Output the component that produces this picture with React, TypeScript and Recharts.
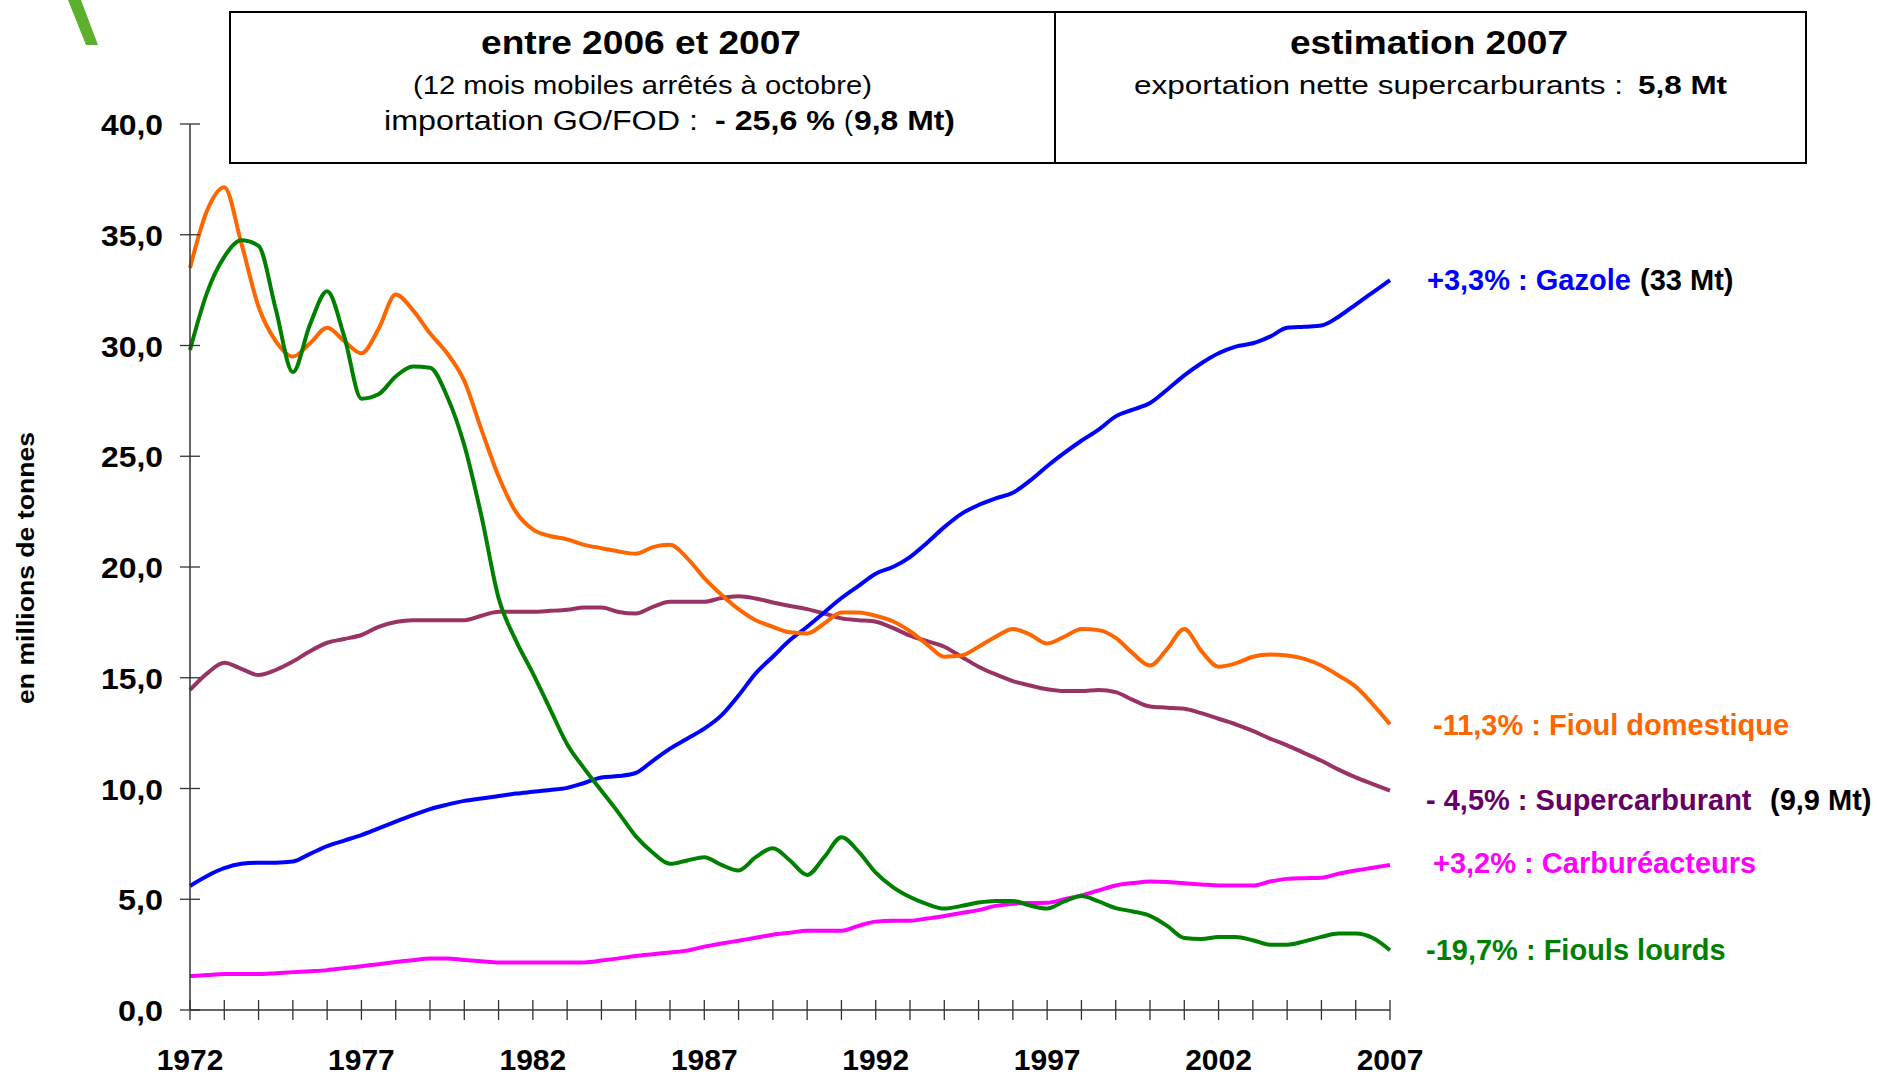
import { LineChart, Line, XAxis, YAxis } from 'recharts'

// half-year sampling, 1972 -> 2007 (Mt, 12-month rolling)
const periods = [
  1972, 1972.5, 1973, 1973.5, 1974, 1974.5, 1975, 1975.5, 1976, 1976.5,
  1977, 1977.5, 1978, 1978.5, 1979, 1979.5, 1980, 1980.5, 1981, 1981.5,
  1982, 1982.5, 1983, 1983.5, 1984, 1984.5, 1985, 1985.5, 1986, 1986.5,
  1987, 1987.5, 1988, 1988.5, 1989, 1989.5, 1990, 1990.5, 1991, 1991.5,
  1992, 1992.5, 1993, 1993.5, 1994, 1994.5, 1995, 1995.5, 1996, 1996.5,
  1997, 1997.5, 1998, 1998.5, 1999, 1999.5, 2000, 2000.5, 2001, 2001.5,
  2002, 2002.5, 2003, 2003.5, 2004, 2004.5, 2005, 2005.5, 2006, 2006.5,
  2007,
]

const gazole = [
  5.6, 6.05, 6.4, 6.6, 6.65, 6.65, 6.7, 7.05, 7.4, 7.65,
  7.9, 8.2, 8.5, 8.8, 9.07, 9.27, 9.44, 9.55, 9.66, 9.77,
  9.85, 9.93, 10.03, 10.25, 10.5, 10.56, 10.7, 11.25, 11.8, 12.25,
  12.7, 13.3, 14.2, 15.2, 15.95, 16.7, 17.3, 17.95, 18.6, 19.15,
  19.7, 20.0, 20.45, 21.1, 21.8, 22.4, 22.8, 23.1, 23.35, 23.9,
  24.55, 25.15, 25.7, 26.2, 26.8, 27.1, 27.4, 28.0, 28.65, 29.2,
  29.65, 29.95, 30.1, 30.4, 30.8, 30.85, 30.9, 31.3, 31.85, 32.4,
  32.95,
]

const fioulDomestique = [
  33.5, 36.1, 37.15, 34.6, 31.75, 30.2, 29.5, 30.1, 30.8, 30.2,
  29.65, 30.75, 32.3, 31.6, 30.55, 29.65, 28.4, 26.2, 24.1, 22.5,
  21.7, 21.4, 21.25, 21.0, 20.85, 20.7, 20.6, 20.9, 21.0, 20.4,
  19.5, 18.75, 18.1, 17.6, 17.3, 17.05, 17.0, 17.45, 17.95, 17.95,
  17.8, 17.55, 17.1, 16.5, 15.95, 16.0, 16.4, 16.85, 17.2, 16.95,
  16.55, 16.85, 17.2, 17.15, 16.8, 16.1, 15.55, 16.3, 17.2, 16.2,
  15.5, 15.65, 15.95, 16.05, 16.0, 15.85, 15.55, 15.1, 14.6, 13.8,
  12.9,
]

const supercarburant = [
  14.45, 15.2, 15.68, 15.4, 15.12, 15.35, 15.73, 16.2, 16.58, 16.75,
  16.93, 17.3, 17.52, 17.6, 17.6, 17.6, 17.6, 17.8, 17.98, 17.98,
  17.98, 18.02, 18.07, 18.17, 18.17, 17.97, 17.9, 18.2, 18.43, 18.43,
  18.43, 18.6, 18.68, 18.58, 18.4, 18.24, 18.1, 17.9, 17.68, 17.6,
  17.53, 17.25, 16.9, 16.65, 16.4, 15.95, 15.5, 15.15, 14.85, 14.65,
  14.48, 14.4, 14.4, 14.45, 14.35, 14.0, 13.7, 13.65, 13.6, 13.4,
  13.15, 12.9, 12.6, 12.25, 11.95, 11.6, 11.25, 10.85, 10.5, 10.2,
  9.9,
]

const carbureacteurs = [
  1.53, 1.58, 1.62, 1.62, 1.62, 1.66, 1.71, 1.75, 1.8, 1.89,
  1.98, 2.07, 2.17, 2.25, 2.33, 2.33, 2.26, 2.2, 2.14, 2.14,
  2.14, 2.14, 2.14, 2.15, 2.23, 2.33, 2.44, 2.52, 2.6, 2.68,
  2.86, 3.0, 3.13, 3.26, 3.4, 3.49, 3.58, 3.58, 3.58, 3.8,
  3.99, 4.03, 4.03, 4.13, 4.24, 4.38, 4.51, 4.7, 4.8, 4.83,
  4.84, 5.0, 5.17, 5.4, 5.62, 5.73, 5.8, 5.78, 5.72, 5.67,
  5.62, 5.62, 5.62, 5.8, 5.92, 5.95, 5.97, 6.15, 6.3, 6.42,
  6.55,
]

const fiouls = [
  29.8, 32.4, 34.0, 34.75, 34.5, 31.65, 28.8, 30.95, 32.45, 30.4,
  27.6, 27.8, 28.6, 29.05, 29.0, 27.7, 25.5, 22.3, 18.6, 16.7,
  15.2, 13.6, 12.0, 10.9, 9.9, 8.9, 7.85, 7.1, 6.6, 6.75,
  6.9, 6.55, 6.3, 6.9, 7.3, 6.75, 6.1, 6.9, 7.8, 7.15,
  6.2, 5.55, 5.1, 4.78, 4.58, 4.7, 4.85, 4.92, 4.92, 4.72,
  4.58, 4.9, 5.15, 4.9, 4.6, 4.45, 4.25, 3.8, 3.25, 3.2,
  3.3, 3.3, 3.15, 2.95, 2.95, 3.1, 3.3, 3.45, 3.45, 3.25,
  2.7,
]

const yearTicks = [
  1972, 1973, 1974, 1975, 1976, 1977, 1978, 1979, 1980, 1981, 1982, 1983,
  1984, 1985, 1986, 1987, 1988, 1989, 1990, 1991, 1992, 1993, 1994, 1995,
  1996, 1997, 1998, 1999, 2000, 2001, 2002, 2003, 2004, 2005, 2006, 2007,
]
const labelledYears = [1972, 1977, 1982, 1987, 1992, 1997, 2002, 2007]
const valueTicks = [0, 5, 10, 15, 20, 25, 30, 35, 40]

const rows = periods.map((p, i) => ({
  period: p,
  gazole: gazole[i],
  fioulDomestique: fioulDomestique[i],
  supercarburant: supercarburant[i],
  carbureacteurs: carbureacteurs[i],
  fiouls: fiouls[i],
}))

const FONT = '"Liberation Sans", Arial, sans-serif'
const AXIS = '#333'

function YearTick(props: any) {
  const { x, y, payload } = props
  const yr = payload.value
  return (
    <g>
      <line x1={x} x2={x} y1={y - 10} y2={y + 10} stroke={AXIS} strokeWidth={1.3} />
      {labelledYears.includes(yr) && (
        <text x={x} y={y + 60} textAnchor="middle" fontSize={30} fontWeight="bold" fontFamily={FONT} fill="#000">
          {yr}
        </text>
      )}
    </g>
  )
}

function ValueTick(props: any) {
  const { x, y, payload } = props
  const label = Number(payload.value).toFixed(1).replace('.', ',')
  // the source glyphs run a little wide
  const len = label.length === 4 ? 62 : 45
  return (
    <g>
      <line x1={x - 10} x2={x + 10} y1={y} y2={y} stroke={AXIS} strokeWidth={1.3} />
      <text
        x={x - 27}
        y={y + 11}
        textAnchor="end"
        fontSize={30}
        fontWeight="bold"
        fontFamily={FONT}
        fill="#000"
        textLength={len}
        lengthAdjust="spacingAndGlyphs"
      >
        {label}
      </text>
    </g>
  )
}

const labelStyle = { fontFamily: FONT, fontSize: 29, fontWeight: 'bold' as const }

function Annotations() {
  return (
    <svg width={1877} height={1077} style={{ position: 'absolute', left: 0, top: 0, pointerEvents: 'none' }}>
      {/* slide decoration */}
      <path d="M68 0 L81 0 L98 45 L86 45 Z" fill="#5cb02c" />

      {/* header box */}
      <rect x={230} y={12} width={1576} height={151} fill="none" stroke="#000" strokeWidth={2} />
      <line x1={1055} x2={1055} y1={12} y2={163} stroke="#000" strokeWidth={2} />

      <g fontFamily={FONT} fill="#000">
        <text x={641} y={54} textAnchor="middle" fontSize={33} fontWeight="bold" textLength={320} lengthAdjust="spacingAndGlyphs">
          entre 2006 et 2007
        </text>
        <text x={413} y={94} fontSize={25} textLength={459} lengthAdjust="spacingAndGlyphs">
          (12 mois mobiles arrêtés à octobre)
        </text>
        <text x={384} y={130} fontSize={27} textLength={314} lengthAdjust="spacingAndGlyphs">
          importation GO/FOD :
        </text>
        <text x={715} y={130} fontSize={27} fontWeight="bold" textLength={120} lengthAdjust="spacingAndGlyphs">
          - 25,6 %
        </text>
        <text x={844} y={130} fontSize={27}>(</text>
        <text x={854} y={130} fontSize={27} fontWeight="bold" textLength={101} lengthAdjust="spacingAndGlyphs">
          9,8 Mt)
        </text>

        <text x={1429} y={54} textAnchor="middle" fontSize={33} fontWeight="bold" textLength={278} lengthAdjust="spacingAndGlyphs">
          estimation 2007
        </text>
        <text x={1134} y={94} fontSize={26} textLength={489} lengthAdjust="spacingAndGlyphs">
          exportation nette supercarburants :
        </text>
        <text x={1638} y={94} fontSize={26} fontWeight="bold" textLength={89} lengthAdjust="spacingAndGlyphs">
          5,8 Mt
        </text>
      </g>

      {/* y-axis title */}
      <text
        transform="translate(34,568) rotate(-90)"
        textAnchor="middle"
        fontFamily={FONT}
        fontSize={23}
        fontWeight="bold"
        fill="#000"
        textLength={272}
        lengthAdjust="spacingAndGlyphs"
      >
        en millions de tonnes
      </text>

      {/* series labels */}
      <text x={1427} y={290} style={labelStyle} fill="#0000ff">+3,3% : Gazole</text>
      <text x={1640} y={290} style={labelStyle} fill="#000">(33 Mt)</text>
      <text x={1433} y={735} style={labelStyle} fill="#ff6600">-11,3% : Fioul domestique</text>
      <text x={1426} y={810} style={labelStyle} fill="#660066">- 4,5% : Supercarburant</text>
      <text x={1770} y={810} style={labelStyle} fill="#000">(9,9 Mt)</text>
      <text x={1433} y={873} style={labelStyle} fill="#ff00ff">+3,2% : Carburéacteurs</text>
      <text x={1426} y={960} style={labelStyle} fill="#008000">-19,7% : Fiouls lourds</text>
    </svg>
  )
}

export default function App() {
  return (
    <div style={{ position: 'absolute', left: 0, top: 0, width: 1877, height: 1077, background: '#fff' }}>
      <LineChart width={1877} height={1077} data={rows} margin={{ top: 124, right: 487, bottom: 0, left: 0 }}>
        <XAxis
          dataKey="period"
          type="number"
          domain={[1972, 2007]}
          ticks={yearTicks}
          interval={0}
          height={67}
          tickLine={false}
          tickSize={0}
          tickMargin={0}
          axisLine={{ stroke: AXIS, strokeWidth: 1.5 }}
          tick={(p: any) => <YearTick {...p} />}
        />
        <YAxis
          domain={[0, 40]}
          ticks={valueTicks}
          interval={0}
          width={190}
          tickLine={false}
          tickSize={0}
          tickMargin={0}
          axisLine={{ stroke: AXIS, strokeWidth: 1.5 }}
          tick={(p: any) => <ValueTick {...p} />}
        />
        <Line type="monotone" dataKey="supercarburant" stroke="#993366" strokeWidth={4} dot={false} isAnimationActive={false} />
        <Line type="monotone" dataKey="carbureacteurs" stroke="#ff00ff" strokeWidth={4} dot={false} isAnimationActive={false} />
        <Line type="monotone" dataKey="gazole" stroke="#0000ff" strokeWidth={4} dot={false} isAnimationActive={false} />
        <Line type="monotone" dataKey="fioulDomestique" stroke="#ff6600" strokeWidth={4} dot={false} isAnimationActive={false} />
        <Line type="monotone" dataKey="fiouls" stroke="#008000" strokeWidth={4} dot={false} isAnimationActive={false} />
      </LineChart>
      <Annotations />
    </div>
  )
}
